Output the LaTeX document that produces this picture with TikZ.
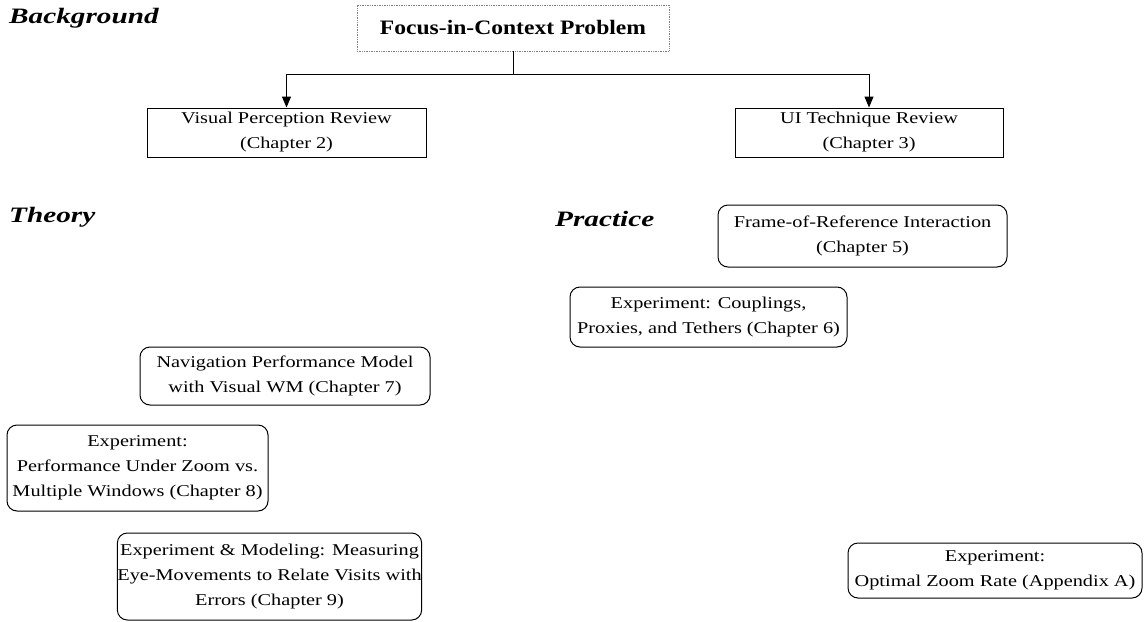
\documentclass[tikz,border=0pt]{standalone}
\usepackage{fontspec}
\setmainfont{Liberation Serif}[FakeStretch=1.23]
\newfontfamily\headfont{Liberation Serif}[FakeStretch=1.33]
\newfontfamily\titlefont{Liberation Serif}[FakeStretch=1.15]
\usetikzlibrary{arrows.meta}
\tikzset{
  x=1pt, y=-1pt,
  every node/.style={font=\fontsize{16.5}{25}\selectfont, align=center, inner sep=0pt},
  plainbox/.style={draw, line width=1pt},
  roundbox/.style={draw, line width=1pt, rounded corners=10pt},
  heading/.style={font=\headfont\fontsize{22}{26}\selectfont\bfseries\itshape, anchor=west},
  link/.style={line width=1pt, -{Triangle[length=11pt,width=9pt]}}
}
\begin{document}
\begin{tikzpicture}
\useasboundingbox (0,0) rectangle (1147,621);

% section headings
\node[heading] (hbg) at (9,18) {Background};
\node[heading] (hth) at (9,217) {Theory};
\node[heading] (hpr) at (555,219) {Practice};

% problem statement
\node[draw, densely dotted, line width=0.7pt, gray, text=black, minimum width=312pt, minimum height=46pt,
      font=\titlefont\fontsize{20.5}{24}\selectfont\bfseries] (focus) at (513,28) {Focus-in-Context Problem};

% reviews
\node[plainbox, minimum width=279pt, minimum height=49pt] (vpr) at (286.5,132.5)
  {Visual Perception Review\\(Chapter 2)};
\node[plainbox, minimum width=268pt, minimum height=49pt] (uit) at (869,132.5)
  {UI Technique Review\\(Chapter 3)};

% practice
\node[roundbox, minimum width=289pt, minimum height=62pt] (for) at (862.5,236)
  {Frame-of-Reference Interaction\\(Chapter 5)};
\node[roundbox, minimum width=277pt, minimum height=60pt] (cpt) at (708.5,317)
  {Experiment: Couplings,\\Proxies, and Tethers (Chapter 6)};
\node[roundbox, minimum width=294pt, minimum height=55pt] (ozr) at (995,570.5)
  {Experiment:\\Optimal Zoom Rate (Appendix A)};

% theory
\node[roundbox, minimum width=290pt, minimum height=58pt] (npm) at (285,376)
  {Navigation Performance Model\\with Visual WM (Chapter 7)};
\node[roundbox, minimum width=261pt, minimum height=86pt] (puz) at (137.5,468)
  {Experiment:\\Performance Under Zoom vs.\\Multiple Windows (Chapter 8)};
\node[roundbox, minimum width=303pt, minimum height=87pt] (emm) at (269.5,576.5)
  {Experiment \& Modeling: Measuring\\Eye-Movements to Relate Visits with\\Errors (Chapter 9)};

% connectors
\coordinate (split) at ([yshift=-23pt]focus.south);
\draw[line width=1pt] (focus.south) -- (split);
\draw[link] (split) -| (vpr.north);
\draw[link] (split) -| (uit.north);
\end{tikzpicture}
\end{document}
